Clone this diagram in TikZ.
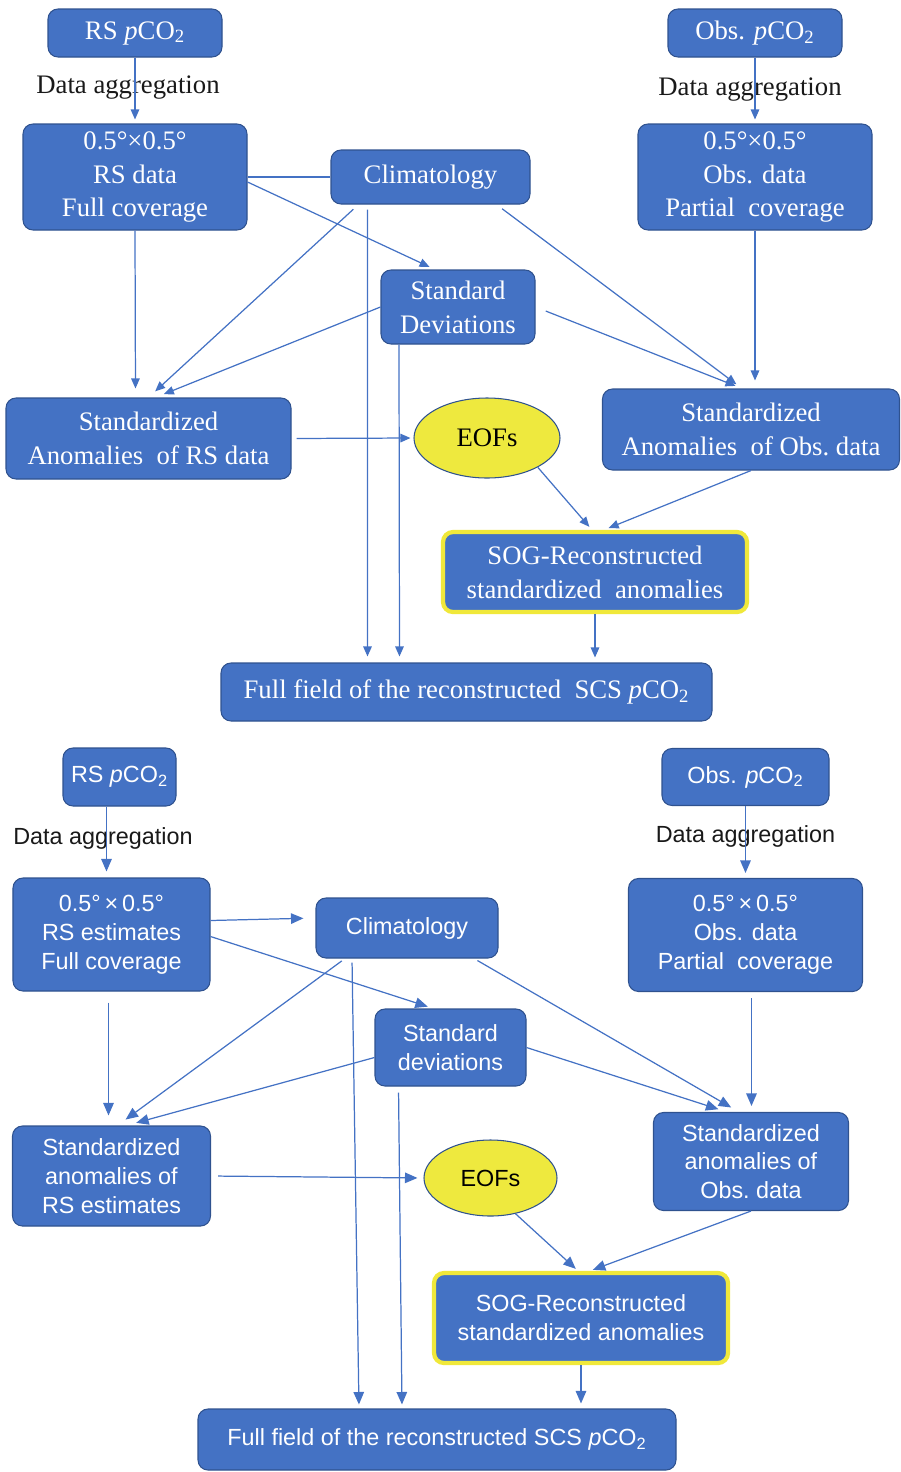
\documentclass[tikz,border=0pt]{standalone}
\usepackage{fontspec}
\setmainfont{Liberation Serif}
\setsansfont{Liberation Sans}
\usetikzlibrary{positioning,shapes.geometric,arrows.meta}

\definecolor{boxblue}{RGB}{68,114,196}
\definecolor{boxline}{RGB}{47,82,143}
\definecolor{linkblue}{RGB}{68,114,196}
\definecolor{eofyellow}{RGB}{238,233,62}
\definecolor{sogyellow}{RGB}{240,232,58}
\definecolor{aggblack}{RGB}{25,25,25}

\newcommand{\pco}{\textit{p}CO\textsubscript{2}}

\tikzset{
    box/.style={draw=boxline, fill=boxblue, text=white, rounded corners=0.2cm, align=center, inner sep=0pt, line width=0.6pt},
    topfont/.style={font=\fontsize{15.2}{19.3}\selectfont},
    botfont/.style={font=\sffamily\fontsize{13.3}{16.4}\selectfont},
    eofs/.style={ellipse, draw=boxline, fill=eofyellow, text=black, inner sep=0pt, line width=0.6pt},
    sogbox/.style={box, draw=sogyellow, line width=2.4pt},
    aggtext/.style={text=aggblack, inner sep=0pt},
    wire/.style={draw=linkblue, line width=0.7pt},
    flow/.style={wire, -{Triangle[length=2mm,width=1.7mm]}, shorten >=0.12cm},
    flowb/.style={wire, -{Triangle[length=2.5mm,width=2.1mm]}, shorten >=0.12cm},
}

\begin{document}
\begin{tikzpicture}[on grid]
    \useasboundingbox (0,0) rectangle (18,-29.44);

    \node [box, topfont, minimum width=3.48cm, minimum height=0.96cm] (rsp) at (2.70,-0.66) {RS \pco};
    \node [box, topfont, minimum width=3.48cm, minimum height=0.96cm, right=12.4cm of rsp] (obsp) {Obs. \pco};
    \node [aggtext, topfont, below left=1.10cm and 0.14cm of rsp] (aggrs) {Data aggregation};
    \node [aggtext, topfont, below left=1.14cm and 0.10cm of obsp] (aggobs) {Data aggregation};
    \node [box, topfont, minimum width=4.48cm, minimum height=2.12cm, below=2.88cm of rsp] (rsgrid) {0.5°×0.5°\\RS data\\Full coverage};
    \node [box, topfont, minimum width=3.98cm, minimum height=1.08cm, right=5.91cm of rsgrid] (clim) {Climatology};
    \node [box, topfont, minimum width=4.68cm, minimum height=2.12cm, below=2.88cm of obsp] (obsgrid) {0.5°×0.5°\\Obs. data\\Partial\ \ coverage};
    \node [box, topfont, minimum width=3.08cm, minimum height=1.48cm, below right=2.6cm and 0.55cm of clim] (sd) {Standard\\Deviations};
    \node [box, topfont, minimum width=5.70cm, minimum height=1.62cm, below right=5.23cm and 0.27cm of rsgrid] (sars) {Standardized\\Anomalies\ \ of RS data};
    \node [eofs, topfont, minimum width=2.92cm, minimum height=1.6cm, below right=2.62cm and 0.58cm of sd] (eof) {EOFs};
    \node [box, topfont, minimum width=5.94cm, minimum height=1.62cm, below left=5.05cm and 0.08cm of obsgrid] (saobs) {Standardized\\Anomalies\ \ of Obs.\ data};
    \node [sogbox, topfont, minimum width=6.08cm, minimum height=1.6cm, below right=2.68cm and 2.16cm of eof] (sog) {SOG-Reconstructed\\standardized\ \ anomalies};
    \node [box, topfont, minimum width=9.82cm, minimum height=1.16cm, below left=2.40cm and 2.57cm of sog] (full) {Full field of the reconstructed\ \ SCS \pco};

    \draw [flow, shorten >=0.08cm] (rsp.south) -- (rsgrid.north);
    \draw [flow, shorten >=0.08cm] (obsp.south) -- (obsgrid.north);
    \draw [wire] (rsgrid.east) -- (clim.west);
    \draw [flow] ([yshift=-0.1cm]rsgrid.east) -- ([xshift=-0.46cm]sd.north);
    \draw [flow, shorten >=0.18cm] (rsgrid.south) -- ([xshift=-0.26cm]sars.north);
    \draw [flow, shorten <=0.14cm, shorten >=0.18cm] ([xshift=-1.44cm]clim.south) -- (sars.north);
    \draw [flow, shorten >=0.18cm] (sd.west) -- ([xshift=0.14cm]sars.north);
    \draw [flow, shorten <=0.1cm] ([xshift=-1.26cm]clim.south) -- ([xshift=-1.98cm]full.north);
    \draw [flow] ([xshift=-1.18cm]sd.south) -- ([xshift=-1.34cm]full.north);
    \draw [flow, shorten <=0.14cm, shorten >=0.14cm] ([xshift=1.32cm]clim.south) -- ([xshift=-0.18cm]saobs.north);
    \draw [flow, shorten <=0.22cm, shorten >=0.14cm] (sd.east) -- ([xshift=-0.18cm]saobs.north);
    \draw [flow, shorten >=0.16cm] (obsgrid.south) -- ([xshift=0.08cm]saobs.north);
    \draw [flow, shorten <=0.1cm, shorten >=0.06cm] (sars.east) -- (eof.west);
    \draw [flow, shorten >=0.08cm] (eof.-30) -- ([xshift=-0.06cm]sog.north);
    \draw [flow, shorten >=0.1cm] (saobs.south) -- ([xshift=0.18cm]sog.north);
    \draw [flow, shorten >=0.1cm] (sog.south) -- (sog.south |- full.north);

    \node [box, botfont, minimum width=2.26cm, minimum height=1.16cm, below left=14.88cm and 0.31cm of rsp] (rsp2) {RS \pco};
    \node [box, botfont, minimum width=3.34cm, minimum height=1.14cm, right=12.52cm of rsp2] (obsp2) {Obs. \pco};
    \node [aggtext, botfont, below left=1.22cm and 0.33cm of rsp2] (aggrs2) {Data aggregation};
    \node [aggtext, botfont, below=1.19cm of obsp2] (aggobs2) {Data aggregation};
    \node [box, botfont, minimum width=3.94cm, minimum height=2.26cm, below left=3.15cm and 0.16cm of rsp2] (rsgrid2) {0.5°\,×\,0.5°\\RS estimates\\Full coverage};
    \node [box, botfont, minimum width=3.64cm, minimum height=1.2cm, above right=0.13cm and 5.91cm of rsgrid2] (clim2) {Climatology};
    \node [box, botfont, minimum width=4.68cm, minimum height=2.26cm, below=3.16cm of obsp2] (obsgrid2) {0.5°\,×\,0.5°\\Obs. data\\Partial\ \ coverage};
    \node [box, botfont, minimum width=3.02cm, minimum height=1.54cm, below right=2.39cm and 0.87cm of clim2] (sd2) {Standard\\deviations};
    \node [box, botfont, minimum width=3.96cm, minimum height=2.0cm, below=4.83cm of rsgrid2] (sars2) {Standardized\\anomalies of\\RS estimates};
    \node [eofs, botfont, minimum width=2.66cm, minimum height=1.52cm, below right=2.61cm and 0.80cm of sd2] (eof2) {EOFs};
    \node [box, botfont, minimum width=3.9cm, minimum height=1.96cm, below right=4.53cm and 0.11cm of obsgrid2] (saobs2) {Standardized\\anomalies of\\Obs.\ data};
    \node [sogbox, botfont, minimum width=5.88cm, minimum height=1.8cm, below right=2.80cm and 1.81cm of eof2] (sog2) {SOG-Reconstructed\\standardized anomalies};
    \node [box, botfont, minimum width=9.56cm, minimum height=1.22cm, below left=2.43cm and 2.88cm of sog2] (full2) {Full field of the reconstructed SCS \pco};

    \draw [flowb, shorten >=0.12cm] ([xshift=-0.26cm]rsp2.south) -- ([xshift=-0.26cm]rsp2.south |- rsgrid2.north);
    \draw [flowb, shorten >=0.1cm] (obsp2.south) -- (obsgrid2.north);
    \draw [flowb, shorten >=0.24cm] ([yshift=0.28cm]rsgrid2.east) -- ([yshift=0.2cm]clim2.west);
    \draw [flowb] ([yshift=-0.04cm]rsgrid2.east) -- ([xshift=-0.34cm]sd2.north);
    \draw [flowb, shorten <=0.22cm, shorten >=0.2cm] ([xshift=-0.06cm]rsgrid2.south) -- ([xshift=-0.06cm]rsgrid2.south |- sars2.north);
    \draw [flowb, shorten <=0.08cm, shorten >=0.2cm] ([xshift=-1.24cm]clim2.south) -- ([xshift=0.12cm]sars2.north);
    \draw [flowb, shorten >=0.2cm] ([yshift=-0.2cm]sd2.west) -- ([xshift=0.3cm]sars2.north);
    \draw [flowb, shorten <=0.08cm, shorten >=0.08cm] ([xshift=-1.10cm]clim2.south) -- ([xshift=-1.56cm]full2.north);
    \draw [flowb, shorten <=0.12cm, shorten >=0.08cm] ([xshift=-1.04cm]sd2.south) -- ([xshift=-0.70cm]full2.north);
    \draw [flowb, shorten <=0.08cm, shorten >=0.18cm] ([xshift=1.34cm]clim2.south) -- ([xshift=-0.24cm]saobs2.north);
    \draw [flowb, shorten >=0.18cm] (sd2.east) -- ([xshift=-0.48cm]saobs2.north);
    \draw [flowb, shorten <=0.12cm, shorten >=0.12cm] ([xshift=0.12cm]obsgrid2.south) -- ([xshift=0.12cm]obsgrid2.south |- saobs2.north);
    \draw [flowb, shorten <=0.14cm, shorten >=0.12cm] (sars2.east) -- (eof2.west);
    \draw [flowb, shorten >=0.06cm] (eof2.-55) -- ([xshift=-0.06cm]sog2.north);
    \draw [flowb, shorten >=0.06cm] (saobs2.south) -- ([xshift=0.18cm]sog2.north);
    \draw [flowb, shorten >=0.1cm] (sog2.south) -- (sog2.south |- full2.north);
\end{tikzpicture}
\end{document}
